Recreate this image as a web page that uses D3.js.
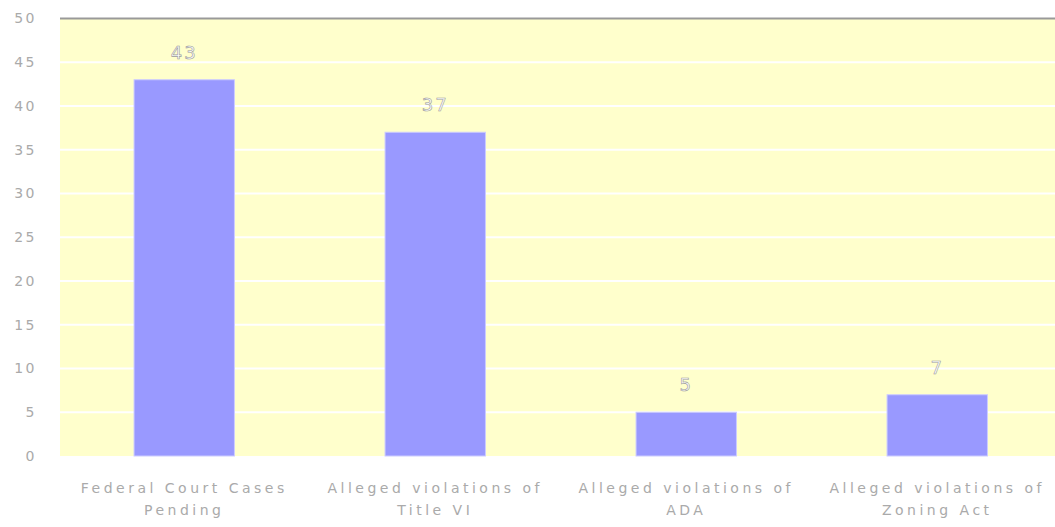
<!DOCTYPE html>
<html>
<head>
<meta charset="utf-8">
<script src="https://cdn.jsdelivr.net/npm/d3@7"></script>
<style>
  body { margin: 0; background: #fff; }
  text { font-family: "DejaVu Sans", sans-serif; }
</style>
</head>
<body>
<div id="chart"></div>
<script>
// chart data
var categories = ["Federal Court Cases Pending", "Alleged violations of Title VI", "Alleged violations of ADA", "Alleged violations of Zoning Act"];
var counts = [43, 37, 5, 7];
var yTicks = [0, 5, 10, 15, 20, 25, 30, 35, 40, 45, 50];

var width = 1055, height = 527;
var margin = {top: 18.5, left: 60, bottom: 71};

var svg = d3.select('#chart')
    .append('svg')
    .attr('width', width)
    .attr('height', height);

var x = d3.scaleBand()
    .domain(categories)
    .range([margin.left, 1061.5])
    .paddingInner(0.6)
    .paddingOuter(0.295);

var y = d3.scaleLinear()
    .domain([0, 50])
    .range([height - margin.bottom, margin.top]);

// plot background
svg.append('rect')
    .attr('x', margin.left)
    .attr('y', y(50))
    .attr('width', width - margin.left)
    .attr('height', y(0) - y(50))
    .attr('fill', '#ffffcc');

// white gridlines
svg.selectAll('.grid')
    .data(yTicks.filter(function(d){ return d > 0 && d < 50; }))
    .enter()
    .append('line')
    .attr('x1', margin.left)
    .attr('x2', width)
    .attr('y1', function(d){ return y(d); })
    .attr('y2', function(d){ return y(d); })
    .attr('stroke', '#fff')
    .attr('stroke-width', 2);

// top border
svg.append('line')
    .attr('x1', margin.left)
    .attr('x2', width)
    .attr('y1', y(50))
    .attr('y2', y(50))
    .attr('stroke', '#999')
    .attr('stroke-width', 2);

// y axis
var yAxis = svg.append('g')
    .attr('transform', 'translate(' + margin.left + ',0)')
    .call(d3.axisLeft(y).tickValues(yTicks).tickSize(0).tickPadding(23));
yAxis.select('.domain').remove();
yAxis.selectAll('text')
    .attr('fill', '#aaa')
    .attr('font-size', 14)
    .attr('letter-spacing', 2.5);

// bars
svg.selectAll('.bar')
    .data(counts)
    .enter()
    .append('rect')
    .attr('class', 'bar')
    .attr('x', function(d, i){ return x(categories[i]); })
    .attr('y', function(d){ return y(d); })
    .attr('width', x.bandwidth())
    .attr('height', function(d){ return y(0) - y(d); })
    .attr('fill', '#9999ff')
    .attr('stroke', '#ccccff')
    .attr('stroke-width', 1);

// value labels
svg.selectAll('.val')
    .data(counts)
    .enter()
    .append('text')
    .attr('x', function(d, i){ return x(categories[i]) + x.bandwidth() / 2; })
    .attr('y', function(d){ return y(d) - 21; })
    .attr('text-anchor', 'middle')
    .attr('font-size', 18)
    .attr('letter-spacing', 2)
    .attr('fill', '#fff')
    .attr('stroke', '#999')
    .attr('stroke-width', 0.6)
    .text(function(d){ return d; });

// x axis labels, wrapped
var xAxis = svg.append('g')
    .attr('transform', 'translate(0,' + y(0) + ')')
    .call(d3.axisBottom(x).tickSize(0).tickPadding(0));
xAxis.select('.domain').remove();
xAxis.selectAll('text')
    .attr('fill', '#aaa')
    .attr('font-size', 14)
    .attr('letter-spacing', 3.5)
    .attr('dy', 0)
    .call(wrap, 240);

function wrap(texts, w) {
  texts.each(function(){
    var text = d3.select(this),
        words = text.text().split(/\s+/),
        line = [],
        lineNo = 0,
        tspan = text.text(null).append('tspan').attr('x', 0).attr('y', 37);
    words.forEach(function(word){
      line.push(word);
      tspan.text(line.join(' '));
      if (tspan.node().getComputedTextLength() > w && line.length > 1) {
        line.pop();
        tspan.text(line.join(' '));
        line = [word];
        lineNo++;
        tspan = text.append('tspan').attr('x', 0).attr('y', 37 + lineNo * 22).text(word);
      }
    });
  });
}
</script>
</body>
</html>
